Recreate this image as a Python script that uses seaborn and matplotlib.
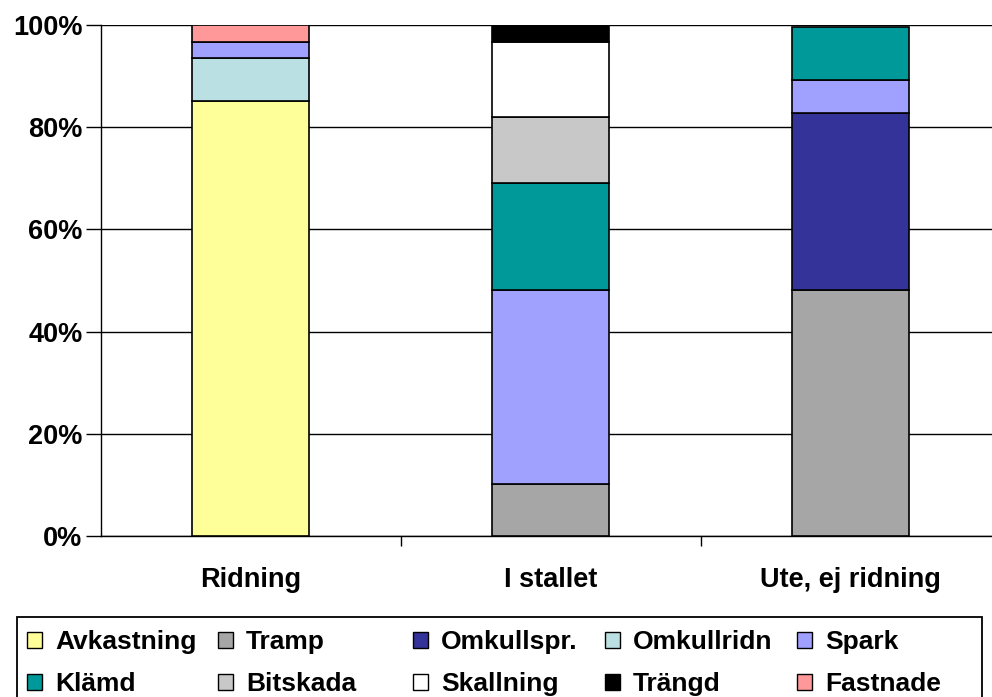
import numpy as np
import pandas as pd
import matplotlib
matplotlib.use("Agg")
import matplotlib.pyplot as plt
import seaborn as sns
from matplotlib.patches import Patch, Rectangle

# categories on the x axis
categories = ["Ridning", "I stallet", "Ute, ej ridning"]

# percent shares per injury type, one value per category (stack order = legend order)
series_names = ["Avkastning", "Tramp", "Omkullspr.", "Omkullridn", "Spark",
                "Klämd", "Bitskada", "Skallning", "Trängd", "Fastnade"]
avkastning = [85.1, 0.0, 0.0]
tramp = [0.0, 10.2, 48.1]
omkullspr = [0.0, 0.0, 34.6]
omkullridn = [8.5, 0.0, 0.0]
spark = [3.1, 37.9, 6.6]
klamd = [0.0, 20.9, 10.3]
bitskada = [0.0, 12.9, 0.0]
skallning = [0.0, 14.8, 0.0]
trangd = [0.0, 3.3, 0.0]
fastnade = [3.3, 0.0, 0.0]

series_values = [avkastning, tramp, omkullspr, omkullridn, spark,
                 klamd, bitskada, skallning, trangd, fastnade]
series_colors = ["#FFFF99", "#A6A6A6", "#333399", "#BBE0E3", "#A0A0FF",
                 "#009999", "#C8C8C8", "#FFFFFF", "#000000", "#FF9999"]

yticks = [0, 20, 40, 60, 80, 100]
ytick_labels = ["0%", "20%", "40%", "60%", "80%", "100%"]

sns.set_style("white")
plt.rcParams["font.family"] = ["Liberation Sans", "DejaVu Sans"]
plt.rcParams["font.weight"] = "bold"
plt.rcParams["text.color"] = "black"
plt.rcParams["xtick.color"] = "black"
plt.rcParams["ytick.color"] = "black"
plt.rcParams["axes.labelcolor"] = "black"

fig = plt.figure(figsize=(9.92, 6.97), dpi=100)
W, H = 992, 697
ax = fig.add_axes([100.5 / W, (H - 536) / H, 900 / W, 511 / H])

bottoms = np.zeros(len(categories))
for name, vals, col in zip(series_names, series_values, series_colors):
    vals = np.array(vals, dtype=float)
    keep = vals > 0
    df = pd.DataFrame({"cat": np.array(categories)[keep], "pct": vals[keep]})
    sns.barplot(data=df, x="cat", y="pct", order=categories, color=col,
                saturation=1, width=0.39, errorbar=None, bottom=bottoms[keep],
                edgecolor="black", linewidth=1.2, ax=ax, zorder=3)
    bottoms += vals

ax.set_xlim(-0.5, 2.5)
ax.set_ylim(0, 100)
ax.set_xlabel("")
ax.set_ylabel("")

# grid lines
ax.set_yticks(yticks)
ax.set_yticklabels(ytick_labels, fontsize=19.5, fontweight="bold")
ax.yaxis.grid(True, color="black", linewidth=1.0)
ax.xaxis.grid(False)
ax.set_axisbelow(True)

ax.set_xticks(range(len(categories)))
ax.set_xticklabels(categories, fontsize=19.5, fontweight="bold")
ax.set_xticks([0.5, 1.5], minor=True)
ax.tick_params(axis="x", which="major", length=0, pad=22)
ax.tick_params(axis="x", which="minor", direction="out", length=7, width=1.0,
               color="black", bottom=True)
ax.tick_params(axis="y", direction="out", length=11, width=1.0, color="black",
               left=True, pad=2)

for side in ["top", "right"]:
    ax.spines[side].set_visible(False)
for side in ["left", "bottom"]:
    ax.spines[side].set_visible(True)
    ax.spines[side].set_color("black")
    ax.spines[side].set_linewidth(1.0)

# legend: 5 columns at fixed x positions inside one frame
handles = [Patch(facecolor=c, edgecolor="black", linewidth=1.0, label=n)
           for n, c in zip(series_names, series_colors)]
col_x = [27, 218, 413, 605, 797]
ncol = 5
for c, x in enumerate(col_x):
    idx = [c, c + ncol]
    fig.legend([handles[i] for i in idx], [series_names[i] for i in idx],
               loc="upper left", bbox_to_anchor=(x / W, 1 - 630 / H),
               bbox_transform=fig.transFigure,
               prop={"size": 19, "weight": "bold"},
               handlelength=0.57, handleheight=0.57, handletextpad=0.49,
               labelspacing=0.70, borderpad=0, borderaxespad=0,
               frameon=False)

fig.patches.append(Rectangle((17 / W, -0.05), (982 - 17) / W, 0.05 + (H - 617) / H,
                             transform=fig.transFigure, fill=False,
                             edgecolor="black", linewidth=1.3, zorder=5))

fig.savefig("out.png", dpi=100)
